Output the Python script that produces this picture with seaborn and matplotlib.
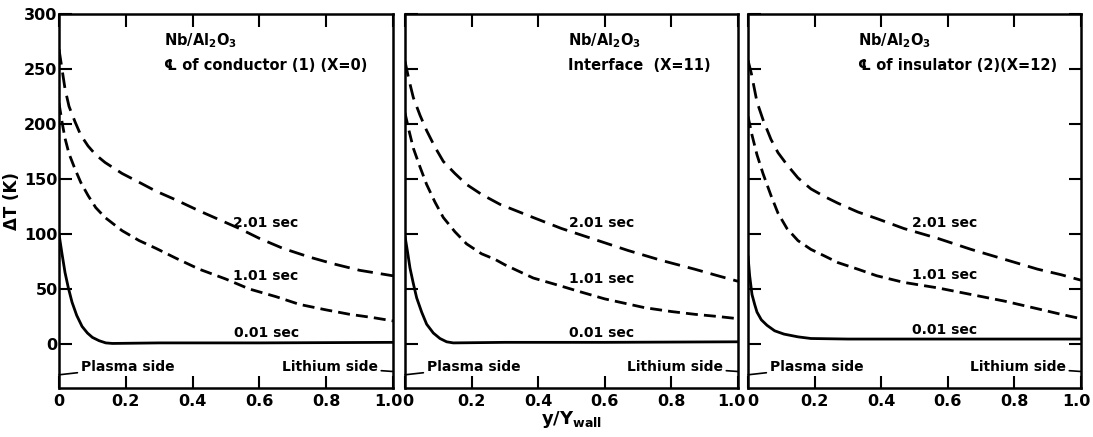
import numpy as np
import pandas as pd
import matplotlib
matplotlib.use("Agg")
import matplotlib.pyplot as plt
import matplotlib.transforms as mtransforms
import seaborn as sns

# ---------------- data ----------------
TIMES = ["0.01 sec", "1.01 sec", "2.01 sec"]
PANEL_TITLES = ["℄ of conductor (1) (X=0)", "Interface  (X=11)", "℄ of insulator (2)(X=12)"]
MATERIAL = "Nb/Al$_2$O$_3$"
X_TICKS = [0, 0.2, 0.4, 0.6, 0.8, 1.0]
X_TICK_LABELS = ["0", "0.2", "0.4", "0.6", "0.8", "1.0"]
Y_TICKS = [0, 50, 100, 150, 200, 250, 300]

# Panel 1: centre line of conductor
p1_x_001 = [0, 0.009, 0.018, 0.028, 0.039, 0.053, 0.069, 0.085, 0.1, 0.12, 0.14, 0.16, 0.3, 0.6, 1.0]
p1_y_001 = [100, 82, 65, 51, 38, 26, 16, 10, 6, 3, 1, 0.5, 1, 1, 1.5]
p1_x_101 = [0, 0.009, 0.018, 0.03, 0.048, 0.065, 0.087, 0.11, 0.138, 0.189, 0.24, 0.29,
            0.35, 0.42, 0.5, 0.57, 0.65, 0.72, 0.8, 0.87, 0.94, 1.0]
p1_y_101 = [219, 202, 187, 173, 159, 147, 135, 124, 115, 103, 94, 87,
            78, 68, 59, 50, 43, 36, 31, 27, 24, 21]
p1_x_201 = [0, 0.009, 0.018, 0.03, 0.048, 0.065, 0.087, 0.11, 0.138, 0.189, 0.24, 0.29,
            0.35, 0.42, 0.48, 0.54, 0.6, 0.67, 0.75, 0.82, 0.9, 1.0]
p1_y_201 = [268, 250, 232, 216, 202, 190, 180, 172, 165, 155, 147, 139,
            131, 121, 113, 105, 96, 87, 79, 73, 67, 62]

# Panel 2: interface
p2_x_001 = [0, 0.008, 0.015, 0.025, 0.035, 0.05, 0.065, 0.085, 0.105, 0.125, 0.145, 0.3, 0.6, 1.0]
p2_y_001 = [98, 83, 69, 55, 42, 29, 18, 10, 5, 2, 1, 1.5, 1.5, 2]
p2_x_101 = [0, 0.012, 0.025, 0.045, 0.065, 0.09, 0.115, 0.15, 0.185, 0.23, 0.27, 0.3,
            0.385, 0.465, 0.52, 0.6, 0.72, 0.8, 0.87, 0.94, 1.0]
p2_y_101 = [210, 194, 178, 161, 145, 129, 115, 102, 91, 82, 77, 72,
            60, 53, 48, 41, 33, 29.5, 27, 25, 23]
p2_x_201 = [0, 0.012, 0.025, 0.045, 0.065, 0.09, 0.115, 0.15, 0.185, 0.23, 0.285, 0.335,
            0.385, 0.47, 0.57, 0.67, 0.77, 0.87, 0.94, 1.0]
p2_y_201 = [257, 240, 224, 208, 194, 179, 166, 155, 145, 136, 127, 121,
            115, 105, 95, 85, 76, 68, 62, 57]

# Panel 3: centre line of insulator
p3_x_001 = [0, 0.005, 0.012, 0.02, 0.027, 0.04, 0.057, 0.08, 0.108, 0.15, 0.189, 0.3, 0.6, 1.0]
p3_y_001 = [80, 62, 45, 36, 29, 22, 17, 12, 9, 6.5, 5, 4.5, 4.5, 4.5]
p3_x_101 = [0, 0.012, 0.027, 0.045, 0.069, 0.09, 0.117, 0.15, 0.189, 0.23, 0.27, 0.33,
            0.387, 0.468, 0.57, 0.67, 0.77, 0.87, 0.94, 1.0]
p3_y_101 = [207, 190, 172, 155, 135, 119, 105, 94, 86, 80, 74, 68,
            62, 56, 51, 45, 39, 32, 27, 23]
p3_x_201 = [0, 0.01, 0.027, 0.045, 0.069, 0.09, 0.117, 0.15, 0.189, 0.23, 0.27, 0.33,
            0.387, 0.468, 0.57, 0.67, 0.77, 0.87, 0.94, 1.0]
p3_y_201 = [258, 246, 220, 204, 186, 174, 163, 151, 141, 134, 128, 120,
            114, 105, 96, 86, 77, 68, 63, 58]

# curve label positions (x, y) in data units per panel
LABEL_POS = [
    [(0.62, 10), (0.62, 62), (0.62, 110)],
    [(0.59, 10), (0.59, 59), (0.59, 110)],
    [(0.59, 13), (0.59, 63), (0.59, 110)],
]

panels = [
    [(p1_x_001, p1_y_001), (p1_x_101, p1_y_101), (p1_x_201, p1_y_201)],
    [(p2_x_001, p2_y_001), (p2_x_101, p2_y_101), (p2_x_201, p2_y_201)],
    [(p3_x_001, p3_y_001), (p3_x_101, p3_y_101), (p3_x_201, p3_y_201)],
]

# ---------------- style ----------------
sns.set_style("ticks")
plt.rcParams["font.family"] = ["DejaVu Sans", "Noto Sans CJK SC"]
plt.rcParams["font.weight"] = "bold"
plt.rcParams["mathtext.default"] = "bf"
plt.rcParams["text.color"] = "black"
plt.rcParams["axes.labelcolor"] = "black"
plt.rcParams["xtick.color"] = "black"
plt.rcParams["ytick.color"] = "black"

fig = plt.figure(figsize=(10.93, 4.37), dpi=100)
lefts = [59 / 1093, 405 / 1093, 748 / 1093]
widths = [334 / 1093, 333 / 1093, 333 / 1093]
bottom = 1 - 388 / 437
height = (388 - 14) / 437

dash_map = {"0.01 sec": "", "1.01 sec": (4.3, 2.2), "2.01 sec": (5.6, 2.9)}
title_pos = [(0.315, 276), (0.49, 276), (0.33, 276)]
first_shift = [0, 3, 5]     # px shift of the "0" label per panel
last_shift = [-5, -7, -5]   # px shift of the "1.0" label per panel

for i, curves in enumerate(panels):
    ax = fig.add_axes([lefts[i], bottom, widths[i], height])
    rows = []
    for t, (xs, ys) in zip(TIMES, curves):
        for x, y in zip(xs, ys):
            rows.append({"x": x, "T": y, "time": t})
    df = pd.DataFrame(rows)
    sns.lineplot(data=df, x="x", y="T", style="time", hue="time",
                 palette={t: "black" for t in TIMES}, dashes=dash_map,
                 linewidth=2.0, legend=False, ax=ax, sort=True,
                 estimator=None)
    for ln in ax.get_lines():
        ln.set_solid_joinstyle("round")
        ln.set_dash_joinstyle("round")
    ax.set_xlim(0, 1.0)
    ax.set_ylim(-40, 300)
    ax.set_xticks(X_TICKS)
    ax.set_xticklabels(X_TICK_LABELS)
    ax.set_yticks(Y_TICKS)
    ax.set_xlabel("")
    ax.set_ylabel("")
    for s in ax.spines.values():
        s.set_visible(True)
        s.set_linewidth(1.8)
        s.set_color("black")
    ax.tick_params(axis="both", direction="in", length=9, width=1.5,
                   colors="black", labelsize=11.5)
    ax.tick_params(axis="x", top=True, pad=4)
    ax.tick_params(axis="y", right=(i == 2), pad=1)
    # nudge the end labels so neighbouring panels do not collide
    labels = ax.get_xticklabels()
    labels[0].set_transform(labels[0].get_transform() +
                            mtransforms.ScaledTranslation(first_shift[i] / 100, 0, fig.dpi_scale_trans))
    labels[-1].set_transform(labels[-1].get_transform() +
                             mtransforms.ScaledTranslation(last_shift[i] / 100, 0, fig.dpi_scale_trans))
    if i > 0:
        ax.set_yticklabels([])
    else:
        ax.set_ylabel("ΔT (K)", fontsize=12, fontweight="bold")
        ax.yaxis.set_label_coords(-0.115, 0.5)

    # titles
    tx, ty = title_pos[i]
    ax.text(tx, ty, MATERIAL, fontsize=10.5, fontweight="bold", va="center", ha="left")
    ax.text(tx, ty - 23, PANEL_TITLES[i], fontsize=10.5, fontweight="bold",
            va="center", ha="left")

    # curve labels
    for t, (lx, ly) in zip(TIMES, LABEL_POS[i]):
        ax.text(lx, ly, t, fontsize=10, fontweight="bold", ha="center", va="center")

    # plasma / lithium side annotations
    ax.annotate("Plasma side", xy=(0.0, -28), xytext=(0.065, -21),
                fontsize=10, fontweight="bold", va="center", ha="left",
                arrowprops=dict(arrowstyle="-", color="black", lw=1.2,
                                shrinkA=0, shrinkB=0))
    ax.annotate("Lithium side", xy=(1.0, -25), xytext=(0.955, -21),
                fontsize=10, fontweight="bold", va="center", ha="right",
                arrowprops=dict(arrowstyle="-", color="black", lw=1.2,
                                shrinkA=0, shrinkB=0))

fig.text(572 / 1093, 1 - 420 / 437, "y/Y$_{wall}$", fontsize=13,
         fontweight="bold", ha="center", va="center")

fig.savefig("out.png", dpi=100, facecolor="white")
